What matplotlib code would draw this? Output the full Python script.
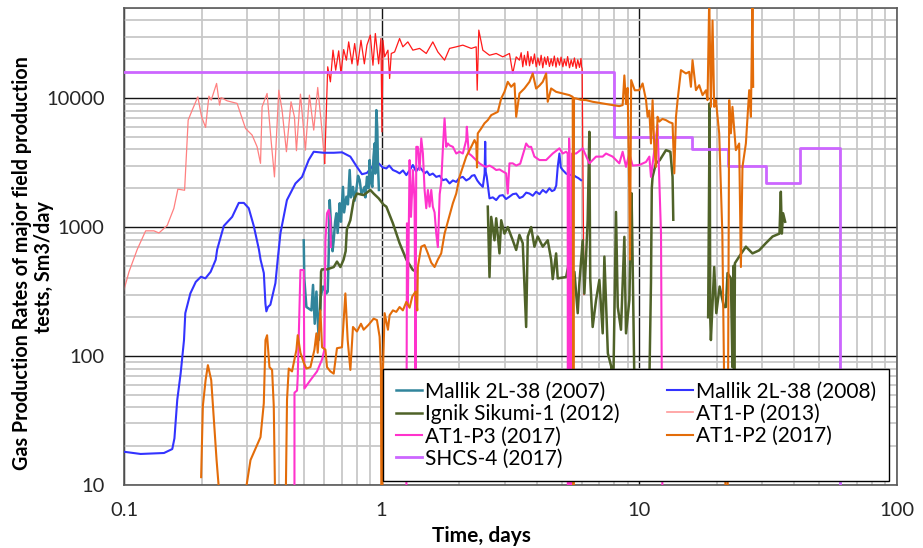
import numpy as np
import matplotlib
matplotlib.use("Agg")
import matplotlib.pyplot as plt
from matplotlib.ticker import LogLocator, NullFormatter

plt.rcParams['font.family'] = ['Lato', 'DejaVu Sans']

nan = np.nan

# Mallik 2L-38 (2007)
m07_t = [0.4985, 0.501, 0.5106, 0.534, 0.5417, 0.55, 0.5584, 0.57, 0.5803, 0.5924, 0.6106, 0.6177,
         0.623, 0.6288, 0.6383, 0.645, 0.6516, 0.66, 0.6675, 0.675, 0.6874, 0.695, 0.7079, 0.715,
         0.7299, 0.74, 0.7516, 0.76, 0.7741, 0.785, 0.7978, 0.81, 0.8218, 0.835, 0.8592, 0.865,
         0.877, 0.89, 0.8985, 0.91, 0.9204, 0.93, 0.9395, 0.945, 0.9539, 0.9623, 0.968, 0.9761]
m07_q = [790, 400, 240, 226, 356, 178, 316, 133, 290, 346, 306, 316,
         600, 1620, 890, 650, 790, 1100, 1280, 900, 1530, 1100, 2050, 1300,
         1720, 1500, 2770, 1700, 2050, 1600, 1940, 2500, 2310, 1800, 2050, 1700,
         2450, 2000, 3310, 2200, 2050, 3500, 4450, 2600, 8070, 5650, 3000, 1940]

# Mallik 2L-38 (2008)
m08_t = [0.100, 0.116, 0.143, 0.154, 0.157, 0.161, 0.166, 0.171, 0.173, 0.181, 0.190, 0.199, 0.207,
         0.217, 0.227, 0.230, 0.244, 0.263, 0.279, 0.292, 0.305, 0.319, 0.334, 0.339, 0.349, 0.354,
         0.357, 0.362, 0.370, 0.387, 0.395, 0.405, 0.429, 0.463, 0.491, 0.521, 0.545, 0.596, 0.652,
         0.702, 0.756, 0.802, 0.839, 0.877, 0.931, 0.974, 1.01, 1.043, 1.07, 1.106, 1.14, 1.174,
         1.21, 1.247, 1.29, 1.322, 1.36, 1.404, 1.43, 1.468, 1.50, 1.535, 1.58, 1.629, 1.68, 1.728,
         1.78, 1.835, 1.89, 1.948, 2.00, 2.066, 2.13, 2.193, 2.24, 2.293, 2.35, 2.398, 2.47, 2.51,
         2.523, 2.535, 2.559, 2.622, 2.70, 2.784, 2.87, 2.953, 3.04, 3.134, 3.23, 3.328, 3.43,
         3.529, 3.64, 3.747, 3.86, 3.977, 4.10, 4.22, 4.35, 4.479, 4.58, 4.684, 4.76, 4.824, 4.898,
         4.96, 5.045, 5.20, 5.355, 5.52, 5.686, 5.80, 5.943]
m08_q = [18.1, 17.4, 17.7, 19.0, 23, 45.7, 73.5, 133, 215, 306, 376, 412, 400,
         450, 558, 670, 1020, 1200, 1540, 1540, 1400, 1020, 670, 558, 440, 255,
         222, 240, 250, 367, 558, 900, 1620, 2180, 2450, 3310, 3840, 3770, 3770,
         3800, 3520, 2930, 2570, 2630, 3030, 3120, 2900, 2850, 3000, 2770, 2700, 2610,
         2750, 2530, 2800, 3030, 2700, 2930, 2800, 2610, 2700, 2530, 2600, 2450, 2500, 2310,
         2350, 2180, 2300, 2240, 2400, 2450, 2300, 2380, 2500, 2530, 2300, 2180, 2050, 2600,
         4590, 2700, 2450, 1670, 1700, 1620, 1750, 1770, 1650, 1720, 1800, 1820, 1680,
         1720, 1850, 1820, 1750, 1880, 1800, 1940, 1850, 2000, 1900, 1940, 2100, 2930, 3720,
         2900, 2770, 2600, 2530, 2550, 2450, 2400, 2310]

# Ignik Sikumi-1 (2012)
ign_t = [0.578, 0.582, 0.586, 0.614, 0.652, 0.671, 0.692, 0.712, 0.725, 0.733, 0.756, 0.779, 0.802,
         0.852, 0.904, 0.931, 0.974, 1.018, 1.043, 1.106, 1.174, 1.247, 1.322, 1.363, nan,
         2.582, 2.622, 2.662, 2.742, 2.784, 2.867, 2.911, 2.997, 3.087, 3.228, 3.328, 3.426, 3.529,
         3.638, 3.691, 3.804, 3.917, 4.035, 4.22, 4.412, 4.548, 4.613, 4.755, 4.824, 5.20, 5.36,
         5.515, 5.60, 5.768, 5.855, 6.029, 6.122, 6.305, 6.40, 6.45, 6.592, 6.795, 7.0, 7.21, 7.32,
         7.55, 7.78, 7.9, 8.03, 8.12, 8.25, 8.49, 8.75, 8.88, 9.15, 9.33, 9.42, 9.6, 10.9,
         11.10, 11.18, 11.26, 11.6, 12.0, 12.69, 13.2, 13.46, 13.55, nan,
         18.5, 18.68, 18.75, 18.85, 18.96, 19.53, 19.9, 20.5, 21.3, 21.68, 22.0, 22.67, 22.99,
         23.2, 23.35, 23.5, 24.41, 25.92, 27.49, 29.18, 30.98, 32.9, 35.0, 35.42, 35.74, 36.15, 36.81]
ign_q = [230, 450, 470, 470, 490, 540, 490, 560, 650, 960, 1130, 1620, 1820,
         1770, 1940, 1820, 1670, 1490, 1440, 1070, 750, 560, 465, 450, nan,
         1440, 410, 1200, 790, 1170, 625, 1130, 890, 1000, 790, 665, 870, 750,
         168, 845, 1000, 705, 845, 705, 790, 560, 395, 625, 400, 410, 560,
         305, 450, 215, 370, 790, 305, 1130, 5480, 400, 168, 272, 390, 150, 590,
         105, 83, 40, 306, 1310, 240, 160, 840, 150, 272, 1830, 560, 40, 40,
         370, 2000, 2450, 3120, 3300, 3950, 3840, 2450, 1140, nan,
         200, 2930, 9100, 200, 133, 490, 215, 346, 240, 240, 440, 400, 82,
         500, 40, 525, 590, 705, 625, 660, 750, 845, 890, 1880, 890, 1280, 1100]

# AT1-P (2013)
p13a_t = [0.100, 0.1046, 0.1126, 0.1214, 0.1307, 0.1367, 0.1472, 0.1562, 0.1619, 0.1719, 0.1775,
          0.1840, 0.1935, 0.2001, 0.2074, 0.2136, 0.2181, 0.2288, 0.2350, 0.2382, 0.2514, 0.2749,
          0.2963, 0.3143, 0.3287, 0.3388, 0.3436, 0.3593, 0.3723, 0.3838, 0.3989, 0.4108, 0.4271,
          0.4450, 0.4587, 0.4671, 0.4841, 0.5061, 0.5245, 0.5451, 0.5649, 0.5818, 0.6013]
p13a_q = [325, 450, 671, 935, 935, 900, 1030, 1397, 1970, 1930, 6750,
          8070, 10230, 7170, 5930, 10360, 9650, 13000, 8830, 10100, 9530, 9100,
          5820, 5170, 4190, 3120, 8560, 10870, 4730, 2450, 11530, 8070, 3840,
          9370, 7170, 3910, 10740, 3950, 10550, 5650, 12100, 6750, 3120]
p13b_t = [0.6013, 0.6177, 0.6327, 0.6475, 0.6633, 0.6813, 0.6954, 0.7124, 0.7299, 0.7450, 0.7672,
          0.7858, 0.8072, 0.8314, 0.8569, 0.8770, 0.9041, 0.9254, 0.9454, 0.9736, 0.9938, 1.003,
          1.012, 1.027, 1.058, 1.074, 1.090, 1.123, 1.174, 1.209, 1.264, 1.322, 1.404, 1.490,
          1.580, 1.653, 1.755, 1.835, 1.948, 2.066, 2.227, 2.328, 2.349, 2.383, 2.470, 2.622,
          2.784, 2.953, 3.134, 3.228, 3.328, 3.426, 3.48, 3.53, 3.58, 3.64, 3.69, 3.75, 3.80,
          3.86, 3.92, 3.98, 4.04, 4.10, 4.16, 4.22, 4.29, 4.35, 4.41, 4.48, 4.55, 4.61, 4.68,
          4.75, 4.82, 4.90, 4.97, 5.05, 5.12, 5.20, 5.27, 5.36, 5.44, 5.52, 5.60, 5.69, 5.77,
          5.86, 5.94, 5.97, 6.0, 6.1]
p13b_q = [3120, 17500, 13380, 23550, 16480, 23260, 15540, 23800, 19700, 27300, 18450,
          26500, 18000, 28100, 18450, 25760, 30800, 18000, 31700, 18450, 29000, 5480,
          28100, 20900, 23550, 14200, 22200, 22800, 29000, 25000, 27300, 23550, 24300, 22200,
          27300, 22800, 19700, 24300, 25000, 25760, 24300, 25000, 11530, 33700, 23550, 21500,
          22200, 20900, 22200, 15540, 20900, 19700, 22500, 17500, 21500, 18000, 23000, 17800, 21000,
          18500, 22000, 17500, 20500, 18000, 21500, 17200, 20800, 18200, 21000, 17600, 20200, 17800, 21200,
          17400, 20500, 18000, 20800, 17500, 20000, 17800, 21000, 17200, 19800, 17600, 20500, 17000, 19800,
          17300, 20300, 17500, 17000, 300]

# AT1-P3 (2017)
p3_t = [0.4587, 0.4590, 0.4696, 0.4725, 0.4841, 0.4985, 0.5016, 0.5292, 0.5614, 0.5871, 0.5998,
        0.6052, 0.6138, 0.6232, 0.6327, 0.635, nan,
        1.247, 1.254, 1.264, 1.284, 1.30, 1.315, 1.322, 1.342, 1.354, 1.363, 1.382, 1.404, 1.425,
        1.446, 1.468, 1.49, 1.512, 1.535, 1.558, 1.58, 1.605, 1.629, 1.653, 1.68, 1.703, 1.728,
        1.755, 1.781, 1.807, 1.835, 1.89, 1.948, 2.006, 2.066, 2.13, 2.141, 2.179, 2.227, 2.293,
        2.398, 2.47, 2.545, 2.622, 2.701, 2.784, 2.867, 2.953, 3.043, 3.087, 3.134, 3.228, 3.328,
        3.45, 3.583, 3.638, 3.72, 3.804, 3.917, 4.096, 4.35, 4.613, 4.898, 5.045, 5.20, 5.274,
        5.28, 5.32, 5.34, 5.355, 5.40, 5.44, 5.48, 5.686, 6.029, 6.40, 6.795, 7.208, 7.429,
        7.879, 8.366, 8.617, 8.882, 9.147, 9.419, 10.0, 10.62, 10.94, 11.10, 11.77, 12.14, 12.31]
p3_q = [1, 52, 54, 69, 465, 465, 56, 65, 76, 94, 112,
        790, 1280, 1360, 1130, 700, nan,
        5, 1070, 250, 3310, 1200, 2050, 2770, 1620, 74, 4190, 4190, 2770, 4870,
        3720, 1940, 1400, 1940, 1440, 1940, 1440, 1300, 890, 700, 1800, 2200, 4000,
        6960, 4190, 4450, 4300, 4190, 3720, 3840, 3720, 4730, 6000, 3720, 3600, 3400,
        3120, 3000, 2930, 3000, 2900, 2770, 2800, 2700, 2610, 1820, 3120, 3120, 3000,
        3100, 4000, 4450, 4190, 4190, 3520, 3310, 3310, 3720, 4080, 3720, 3840, 3720,
        5, 5, 4870, 4000, 5, 5, 3720, 3720, 4080, 3120, 3520, 3520, 3720,
        3520, 3120, 3840, 2930, 3720, 3000, 3030, 3200, 3520, 2450, 6180, 890, 5]

# AT1-P2 (2017)
p2_t = [0.1993, 0.2024, 0.2074, 0.2117, 0.2181, 0.2233, 0.2288, 0.2329, 0.235, nan,
        0.2834, 0.3098, 0.3388, 0.3489, 0.3542, 0.3593, 0.3670, 0.3757, 0.3814, 0.3873, nan,
        0.4233, 0.4294, 0.4360, 0.4490, 0.4671, 0.4725, 0.4841, 0.4985, 0.5106, 0.5292, 0.5485,
        0.5584, 0.5649, 0.5787, 0.5871, 0.6052, 0.6138, 0.6327, 0.6516, 0.6710, 0.7016, 0.7233,
        0.7383, 0.7563, 0.7741, 0.8022, 0.8314, 0.8516, 0.8905, 0.9311, 0.9590, 0.9822, 0.994,
        0.998, 1.005, 1.012, 1.027, 1.058, 1.074, 1.106, 1.140, 1.174, 1.209, 1.247, 1.284, 1.315,
        1.354, 1.375, 1.382, 1.425, 1.468, 1.512, 1.558, 1.605, 1.653, 1.703, 1.755, 1.807, 1.890,
        1.948, 2.006, 2.066, 2.130, 2.227, 2.293, 2.33, 2.345, 2.361, 2.435, 2.507, 2.582, 2.662,
        2.742, 2.824, 2.911, 2.997, 3.087, 3.182, 3.278, 3.328, 3.426, 3.583, 3.747, 3.859, 3.977,
        4.096, 4.220, 4.350, 4.412, 4.548, 4.755, 5.045, 5.355, 5.515, 5.55, 5.58, 5.686, 5.943,
        6.215, 6.592, 6.998, 7.429, 7.879, 8.366, 8.617, 8.75, 8.882, 9.010, 9.147, 9.20, 9.30,
        9.6, 10.0, 10.3, 10.62, 10.77, 10.94, 11.10, 11.26, 11.43, 11.60, 11.77, 11.95, 12.3,
        12.69, 13.1, 13.46, 13.67, 13.88, 14.08, 14.51, 15.17, 15.62, 15.86, 16.09, 16.59, 17.08,
        17.60, 18.14, 18.40, 18.68, 18.96, 19.24, 19.53, 19.83, 20.42, 21.0, 21.68, 22.0, 22.33,
        22.67, 22.99, 23.70, 24.41, 24.79, 25.14, 25.92, 26.70, 27.11, 27.49, 27.67]
p2_q = [11.5, 41, 65, 85, 65, 32, 15.6, 10, 5, nan,
        5, 15.6, 23.5, 43, 133, 145, 82, 78, 41, 5, nan,
        5, 46, 80, 76, 112, 145, 106, 89, 80, 82, 112,
        150, 106, 226, 117, 112, 82, 76, 73, 115, 117, 306,
        133, 78, 168, 155, 178, 160, 175, 195, 190, 141, 78,
        5, 5, 78, 215, 160, 207, 226, 220, 240, 226, 263, 237, 290,
        316, 226, 490, 705, 725, 625, 530, 490, 560, 625, 890, 1100, 1530,
        1820, 2450, 2930, 3520, 4190, 4730, 4400, 2900, 5330, 5820, 6380, 6750, 7380,
        7600, 7830, 9940, 11190, 13380, 12240, 13000, 7170, 10870, 11890, 13380, 15540, 11860,
        12500, 13380, 15540, 9370, 11890, 11190, 10870, 10550, 10230, 5, 10000, 9940, 9700,
        9650, 9370, 9180, 8990, 8830, 8670, 8830, 15000, 9000, 12000, 1830, 560, 13800,
        11500, 11530, 13000, 9650, 7170, 8000, 4450, 9650, 4190, 2930, 7170, 6580, 6900,
        6750, 6500, 6380, 2610, 7170, 9650, 16480, 15540, 16000, 12240, 19700, 11530, 12600,
        10550, 11500, 9650, 60000, 8560, 40000, 8560, 9650, 5330, 900, 5, 5, 9650,
        5330, 8560, 3950, 4450, 490, 2930, 4450, 11530, 7170, 60000, 12240]

# SHCS-4 (2017)
shcs_t = [0.1, 8, 16, 22, 31, 42, 60]
shcs_q = [16000, 5000, 4000, 3000, 2200, 4100, 1]

fig = plt.figure(figsize=(9.23, 5.48), dpi=100)
ax = fig.add_axes([0.1343, 0.115, 0.8375, 0.8704])

ax.plot(p13a_t, p13a_q, color='#ff8080', lw=0.9, zorder=2)
ax.plot(p13b_t, p13b_q, color='#ff1a1a', lw=0.9, zorder=2)
h_m08, = ax.plot(m08_t, m08_q, color='#3333ff', lw=1.5, zorder=3)
h_m07, = ax.plot(m07_t, m07_q, color='#31859c', lw=1.8, zorder=3)
h_ign, = ax.plot(ign_t, ign_q, color='#4f6228', lw=1.8, zorder=3)
h_p3, = ax.plot(p3_t, p3_q, color='#ff33cc', lw=1.5, zorder=4)
h_shcs, = ax.plot(shcs_t, shcs_q, color='#cc66ff', lw=2.0, drawstyle='steps-post', zorder=4)
h_p2, = ax.plot(p2_t, p2_q, color='#e36c09', lw=1.5, zorder=5)
h_p13 = plt.Line2D([], [], color='#ff9999', lw=1.2)

ax.set_xscale('log')
ax.set_yscale('log')
ax.set_xlim(0.1, 100)
ax.set_ylim(10, 50000)

ax.set_xticks([0.1, 1, 10, 100])
ax.set_xticklabels(['0.1', '1', '10', '100'])
ax.set_yticks([10, 100, 1000, 10000])
ax.set_yticklabels(['10', '100', '1000', '10000'])
ax.xaxis.set_minor_locator(LogLocator(base=10, subs=np.arange(2, 10)))
ax.yaxis.set_minor_locator(LogLocator(base=10, subs=np.arange(2, 10)))
ax.xaxis.set_minor_formatter(NullFormatter())
ax.yaxis.set_minor_formatter(NullFormatter())
ax.tick_params(which='both', length=0, labelsize=14.5, colors='#262626')
ax.tick_params(axis='x', pad=12)
ax.tick_params(axis='y', pad=14)

ax.grid(which='minor', color='#c8c8c8', lw=1.3)
ax.grid(which='major', color='#141414', lw=1.0)
ax.set_axisbelow(True)
for s in ax.spines.values():
    s.set_color('#595959')
    s.set_linewidth(1.2)

ax.set_xlabel('Time, days', fontsize=15, fontweight='bold')
ax.xaxis.set_label_coords(0.462, -0.085)

# y title as two rotated lines, like the original
fig.text(0.024, 0.52, 'Gas Production Rates of major field production', rotation=90,
         ha='center', va='center', fontsize=14.2, fontweight='bold')
fig.text(0.048, 0.513, 'tests, Sm3/day', rotation=90,
         ha='center', va='center', fontsize=14.2, fontweight='bold')

handles = [h_m07, h_ign, h_p3, h_shcs, h_m08, h_p13, h_p2]
labels = ['Mallik 2L-38 (2007)', 'Ignik Sikumi-1 (2012)', 'AT1-P3 (2017)', 'SHCS-4 (2017)',
          'Mallik 2L-38 (2008)', 'AT1-P (2013)', 'AT1-P2 (2017)']
leg = ax.legend(handles, labels, ncol=2, loc='lower right', bbox_to_anchor=(0.9897, 0.0084),
                borderaxespad=0, fontsize=15, handlelength=1.25, handletextpad=0.15,
                columnspacing=2.3, labelspacing=0.1, borderpad=0.6, fancybox=False,
                framealpha=1, edgecolor='black')
leg.get_frame().set_linewidth(1.0)
leg.set_zorder(10)

fig.savefig('out.png', dpi=100)
